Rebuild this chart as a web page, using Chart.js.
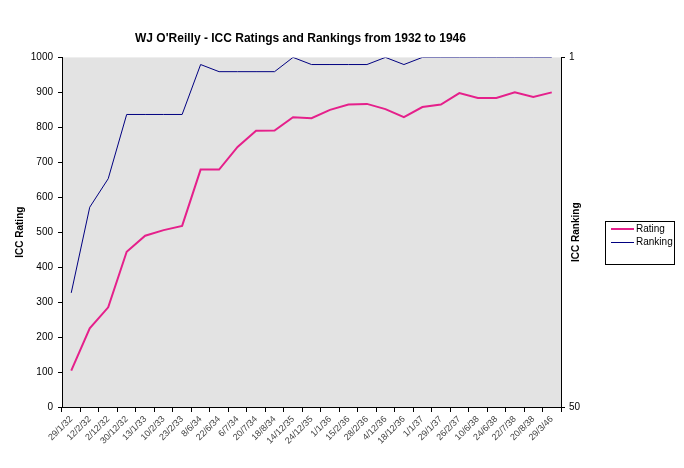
<!DOCTYPE html>
<html>
<head>
<meta charset="utf-8">
<script src="https://cdn.jsdelivr.net/npm/chart.js@4.4.0/dist/chart.umd.min.js"></script>
<style>
  body { margin: 0; background: #fff; }
  #wrap { width: 684px; height: 468px; }
</style>
</head>
<body>
<div id="wrap"><canvas id="myChart" width="684" height="468"></canvas></div>
<script>
// Match dates (x categories)
const dates = ['29/1/32', '12/2/32', '2/12/32', '30/12/32', '13/1/33', '10/2/33', '23/2/33',
    '8/6/34', '22/6/34', '6/7/34', '20/7/34', '18/8/34', '14/12/35', '24/12/35', '1/1/36',
    '15/2/36', '28/2/36', '4/12/36', '18/12/36', '1/1/37', '29/1/37', '26/2/37', '10/6/38',
    '24/6/38', '22/7/38', '20/8/38', '29/3/46'];

// ICC rating points (left axis)
const ratings = [104, 225, 285, 444, 490, 506, 518, 679, 679, 744, 790, 791, 829, 826, 850,
    865, 867, 852, 829, 858, 865, 898, 884, 884, 900, 887, 900];

// ICC ranking position (right axis, 1 at the top)
const rankings = [34, 22, 18, 9, 9, 9, 9, 2, 3, 3, 3, 3, 1, 2, 2,
    2, 2, 1, 2, 1, 1, 1, 1, 1, 1, 1, 1];

const rankTicks = [1, 50];

const FONT = '"Liberation Sans", Arial, sans-serif';

// grey plot area, legend box and right-hand axis title
const extras = {
    id: 'extras',
    beforeDraw(chart) {
        const { ctx, chartArea: a } = chart;
        ctx.save();
        ctx.fillStyle = '#e3e3e3';
        ctx.fillRect(a.left, a.top, a.right - a.left, a.bottom - a.top);
        ctx.restore();
    },
    afterDraw(chart) {
        const { ctx, chartArea: a } = chart;
        ctx.save();
        // right axis title, reading upwards
        ctx.translate(576, (a.top + a.bottom) / 2);
        ctx.rotate(-Math.PI / 2);
        ctx.font = 'bold 10px ' + FONT;
        ctx.fillStyle = '#000';
        ctx.textAlign = 'center';
        ctx.textBaseline = 'middle';
        ctx.fillText('ICC Ranking', 0, 0);
        ctx.restore();

        // legend
        ctx.save();
        ctx.strokeStyle = '#000';
        ctx.lineWidth = 1;
        ctx.strokeRect(605.5, 221.5, 69, 43);
        ctx.font = '10px ' + FONT;
        ctx.textBaseline = 'middle';
        ctx.fillStyle = '#000';
        chart.data.datasets.forEach((ds, i) => {
            const y = 229 + i * 13.5;
            ctx.strokeStyle = ds.borderColor;
            ctx.lineWidth = ds.borderWidth;
            ctx.beginPath();
            ctx.moveTo(611, y);
            ctx.lineTo(634, y);
            ctx.stroke();
            ctx.fillText(ds.label, 636, y);
        });
        ctx.restore();
    }
};

const ctx = document.getElementById('myChart').getContext('2d');
const myChart = new Chart(ctx, {
    type: 'line',
    data: {
        labels: dates,
        datasets: [{
            label: 'Rating',
            data: ratings,
            borderColor: '#e5208b',
            borderWidth: 2,
            pointRadius: 0,
            tension: 0,
            yAxisID: 'y',
        }, {
            label: 'Ranking',
            data: rankings,
            borderColor: '#000080',
            borderWidth: 1,
            pointRadius: 0,
            tension: 0,
            yAxisID: 'y2',
        }]
    },
    options: {
        responsive: false,
        animation: false,
        layout: { padding: { left: 0, right: 83, top: 0, bottom: 0 } },
        plugins: {
            legend: { display: false },
            tooltip: { enabled: false },
            title: {
                display: true,
                text: "WJ O'Reilly - ICC Ratings and Rankings from 1932 to 1946",
                color: '#000',
                font: { family: FONT, size: 12, weight: 'bold' },
                padding: { top: 31, bottom: 12 },
            },
        },
        scales: {
            x: {
                offset: true,
                grid: { offset: true, drawOnChartArea: false, tickLength: 5, color: '#000' },
                border: { display: true, color: '#000' },
                ticks: {
                    autoSkip: false,
                    maxRotation: 45,
                    minRotation: 45,
                    padding: 2,
                    color: '#444',
                    font: { family: FONT, size: 9 },
                },
                afterFit(scale) { scale.height = 61; },
            },
            y: {
                position: 'left',
                min: 0,
                max: 1000,
                ticks: {
                    stepSize: 100,
                    padding: 5,
                    color: '#000',
                    font: { family: FONT, size: 10 },
                    callback: v => String(v),
                },
                grid: { drawOnChartArea: false, tickLength: 4, color: '#000' },
                border: { display: true, color: '#000' },
                title: {
                    display: true,
                    text: 'ICC Rating',
                    color: '#000',
                    font: { family: FONT, size: 10, weight: 'bold' },
                    padding: { top: 14, bottom: 0 },
                },
                afterFit(scale) { scale.width = 62; },
            },
            y2: {
                position: 'right',
                min: 1,
                max: 50,
                reverse: true,
                afterBuildTicks(scale) {
                    scale.ticks = rankTicks.map(v => ({ value: v }));
                },
                ticks: {
                    padding: 4,
                    color: '#000',
                    font: { family: FONT, size: 10 },
                },
                grid: { drawOnChartArea: false, tickLength: 4, color: '#000' },
                border: { display: true, color: '#000' },
                afterFit(scale) { scale.width = 40; },
            },
        },
    },
    plugins: [extras],
});
</script>
</body>
</html>
